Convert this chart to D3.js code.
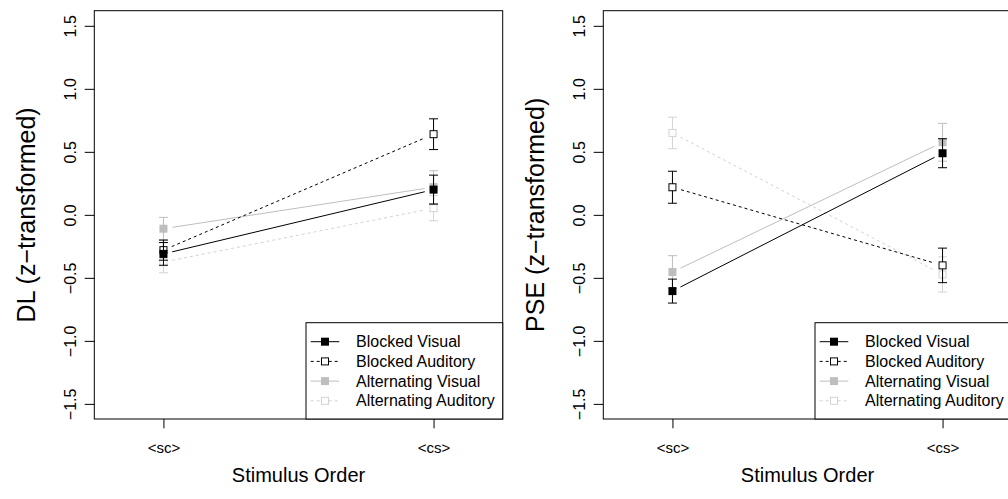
<!DOCTYPE html>
<html><head><meta charset="utf-8">
<script src="https://cdn.jsdelivr.net/npm/d3@7/dist/d3.min.js"></script>
<style>
html,body{margin:0;padding:0;background:#fff;}
svg{display:block;font-family:"Liberation Sans",Arial,sans-serif;}
</style></head>
<body><svg id="chart" width="1008" height="499"></svg>
<script>
// ---- data ----
const categories = ["<sc>", "<cs>"];
const seriesNames = ["Blocked Visual", "Blocked Auditory", "Alternating Visual", "Alternating Auditory"];
const yTicks = [-1.5, -1.0, -0.5, 0.0, 0.5, 1.0, 1.5];

// DL panel
const dlBlockedVisual = [-0.31, 0.20];
const dlBlockedVisualSE = [0.09, 0.115];
const dlBlockedAuditory = [-0.28, 0.64];
const dlBlockedAuditorySE = [0.08, 0.122];
const dlAlternatingVisual = [-0.11, 0.22];
const dlAlternatingVisualSE = [0.09, 0.13];
const dlAlternatingAuditory = [-0.375, 0.053];
const dlAlternatingAuditorySE = [0.085, 0.10];

// PSE panel
const pseBlockedVisual = [-0.605, 0.489];
const pseBlockedVisualSE = [0.095, 0.115];
const pseBlockedAuditory = [0.219, -0.401];
const pseBlockedAuditorySE = [0.127, 0.137];
const pseAlternatingVisual = [-0.454, 0.576];
const pseAlternatingVisualSE = [0.13, 0.15];
const pseAlternatingAuditory = [0.65, -0.473];
const pseAlternatingAuditorySE = [0.125, 0.14];

// ---- styles ----
const styles = [
  {color: "#000000", dash: null, filled: true},
  {color: "#000000", dash: "3,3", filled: false},
  {color: "#bebebe", dash: null, filled: true},
  {color: "#d3d3d3", dash: "3,3", filled: false}
];

const svg = d3.select("#chart");
const minus = s => s.replace("-", "\u2212");

function panel(dx, ylab, means, ses) {
  const left = 94.3 + dx, right = 502.7 + dx, top = 10.7, bottom = 419;
  // xlim c(0.8,2.2) with 4% extension ; ylim c(-1.5,1.5) with 4%
  const x = d3.scaleLinear().domain([0.744, 2.256]).range([left, right]);
  const y = d3.scaleLinear().domain([-1.62, 1.62]).range([bottom, top]);
  const g = svg.append("g");

  // y axis
  const ya = g.append("g").attr("transform", `translate(${left},0)`)
    .call(d3.axisLeft(y).tickValues(yTicks).tickSize(9.6).tickFormat(d => minus(d3.format(".1f")(d))));
  ya.select(".domain").remove();
  ya.selectAll(".tick line").attr("stroke", "#000");
  ya.selectAll(".tick text").attr("font-size", 16).attr("fill", "#000")
    .attr("x", null).attr("dy", null).attr("y", 0)
    .attr("text-anchor", "middle")
    .attr("transform", `translate(-18,0) rotate(-90)`);
  // x axis
  const xa = g.append("g").attr("transform", `translate(0,${bottom})`)
    .call(d3.axisBottom(x).tickValues([1, 2]).tickSize(9.3).tickFormat((d, i) => categories[i]));
  xa.select(".domain").remove();
  xa.selectAll(".tick line").attr("stroke", "#000");
  xa.selectAll(".tick text").attr("font-size", 15).attr("fill", "#000").attr("y", 34).attr("dy", null);

  // box
  g.append("rect").attr("x", left).attr("y", top).attr("width", right - left).attr("height", bottom - top)
    .attr("fill", "none").attr("stroke", "#000").attr("stroke-width", 1);

  // titles
  g.append("text").attr("x", (left + right) / 2).attr("y", 482).attr("text-anchor", "middle")
    .attr("font-size", 20).text("Stimulus Order");
  g.append("text").attr("transform", `translate(${left - 59},${(top + bottom) / 2}) rotate(-90)`)
    .attr("text-anchor", "middle").attr("font-size", 25).text(ylab);

  const marks = g.append("g");
  const order = [3, 2, 1, 0];
  const gap = 9, half = 4, cap = 4.5;
  order.forEach(si => {
    const st = styles[si];
    const vals = means[si], se = ses[si];
    const pts = vals.map((v, i) => [x(i + 1), y(v)]);
    // connecting line with gaps (type="b")
    const [p0, p1] = pts;
    const L = Math.hypot(p1[0] - p0[0], p1[1] - p0[1]);
    const ux = (p1[0] - p0[0]) / L, uy = (p1[1] - p0[1]) / L;
    marks.append("line")
      .attr("x1", p0[0] + ux * gap).attr("y1", p0[1] + uy * gap)
      .attr("x2", p1[0] - ux * gap).attr("y2", p1[1] - uy * gap)
      .attr("stroke", st.color).attr("stroke-width", 1)
      .attr("stroke-dasharray", st.dash);
    // error bars
    vals.forEach((v, i) => {
      const cx = x(i + 1), yl = y(v - se[i]), yh = y(v + se[i]);
      marks.append("line").attr("x1", cx).attr("x2", cx).attr("y1", yl).attr("y2", yh).attr("stroke", st.color);
      marks.append("line").attr("x1", cx - cap).attr("x2", cx + cap).attr("y1", yl).attr("y2", yl).attr("stroke", st.color);
      marks.append("line").attr("x1", cx - cap).attr("x2", cx + cap).attr("y1", yh).attr("y2", yh).attr("stroke", st.color);
    });
    // markers
    pts.forEach(p => {
      if (st.filled) {
        marks.append("rect").attr("x", p[0] - half).attr("y", p[1] - half).attr("width", 2 * half).attr("height", 2 * half)
          .attr("fill", st.color);
      } else {
        marks.append("rect").attr("x", p[0] - half + 0.5).attr("y", p[1] - half + 0.5).attr("width", 2 * half - 1).attr("height", 2 * half - 1)
          .attr("fill", "#fff").attr("stroke", st.color).attr("stroke-width", 1);
      }
    });
  });

  // legend
  const lx = 306 + dx, ly = 322.7;
  const lg = g.append("g");
  lg.append("rect").attr("x", lx).attr("y", ly).attr("width", right - lx).attr("height", bottom - ly)
    .attr("fill", "#fff").attr("stroke", "#000");
  seriesNames.forEach((name, i) => {
    const st = styles[i];
    const ry = 341.7 + i * 19.7;
    lg.append("line").attr("x1", lx + 4.7).attr("x2", lx + 33.3).attr("y1", ry).attr("y2", ry)
      .attr("stroke", st.color).attr("stroke-dasharray", st.dash);
    const mx = lx + 19;
    if (st.filled) {
      lg.append("rect").attr("x", mx - half).attr("y", ry - half).attr("width", 2 * half).attr("height", 2 * half).attr("fill", st.color);
    } else {
      lg.append("rect").attr("x", mx - half + 0.5).attr("y", ry - half + 0.5).attr("width", 2 * half - 1).attr("height", 2 * half - 1)
        .attr("fill", "#fff").attr("stroke", st.color);
    }
    lg.append("text").attr("x", lx + 50).attr("y", ry).attr("dy", "0.35em").attr("font-size", 16).text(name);
  });
}

panel(0, "DL (z\u2212transformed)",
  [dlBlockedVisual, dlBlockedAuditory, dlAlternatingVisual, dlAlternatingAuditory],
  [dlBlockedVisualSE, dlBlockedAuditorySE, dlAlternatingVisualSE, dlAlternatingAuditorySE]);
panel(509, "PSE (z\u2212transformed)",
  [pseBlockedVisual, pseBlockedAuditory, pseAlternatingVisual, pseAlternatingAuditory],
  [pseBlockedVisualSE, pseBlockedAuditorySE, pseAlternatingVisualSE, pseAlternatingAuditorySE]);
</script>
</body></html>
